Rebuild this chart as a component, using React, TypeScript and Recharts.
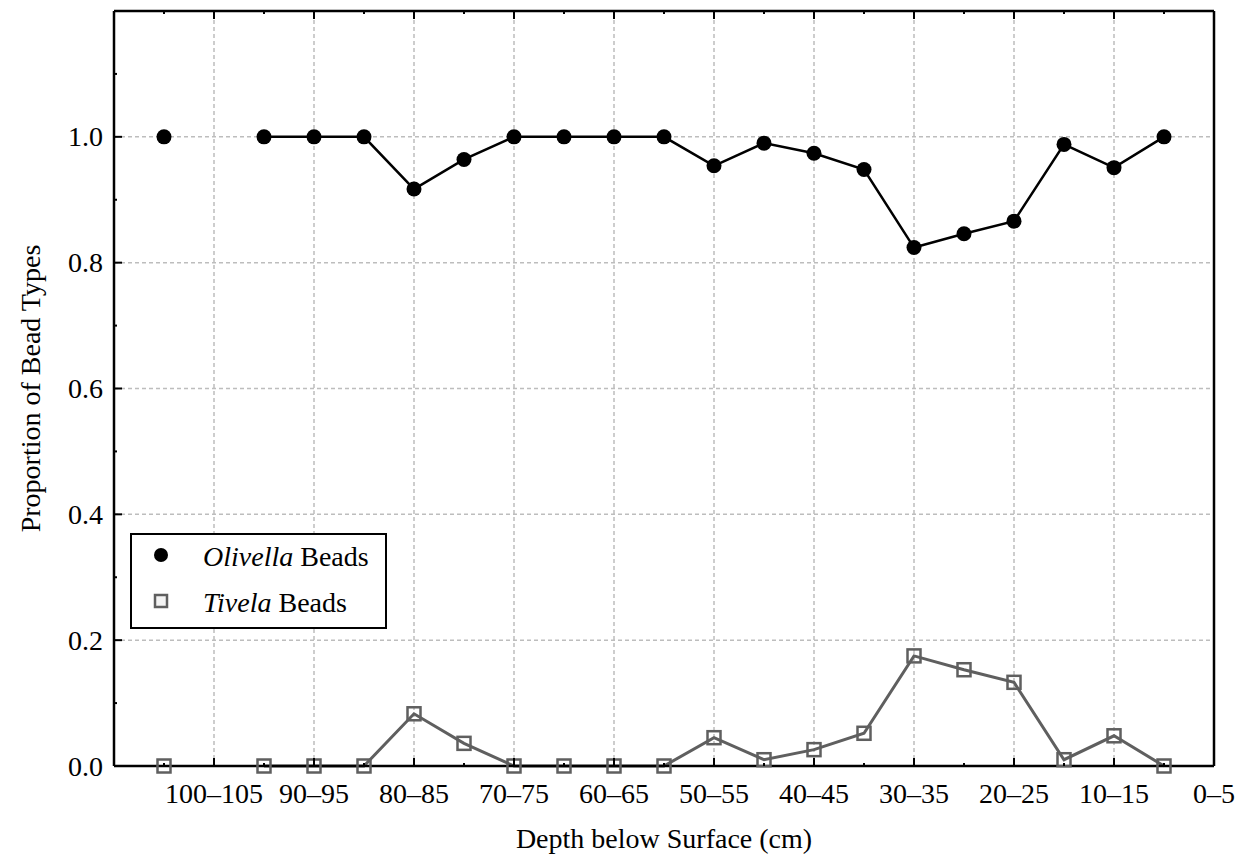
import React from 'react';
import { LineChart, Line, XAxis, YAxis, ReferenceLine, Legend, Label } from 'recharts';

// depth bins, keyed by the top of each 5 cm level (0 = 0–5 cm)
const binStart = [105, 100, 95, 90, 85, 80, 75, 70, 65, 60, 55, 50, 45, 40, 35, 30, 25, 20, 15, 10, 5];
const olivella = [1.0, null, 1.0, 1.0, 1.0, 0.917, 0.964, 1.0, 1.0, 1.0, 1.0, 0.954, 0.99, 0.974, 0.948, 0.824, 0.846, 0.866, 0.988, 0.951, 1.0];
const tivela = [0, null, 0, 0, 0, 0.083, 0.036, 0, 0, 0, 0, 0.045, 0.01, 0.026, 0.052, 0.175, 0.153, 0.133, 0.01, 0.048, 0];

const xMajorTicks = [0, 10, 20, 30, 40, 50, 60, 70, 80, 90, 100];
const xTickLabels = ['0–5', '10–15', '20–25', '30–35', '40–45', '50–55', '60–65', '70–75', '80–85', '90–95', '100–105'];
const xMinorTicks = [5, 15, 25, 35, 45, 55, 65, 75, 85, 95, 105];
const yMajorTicks = [0, 0.2, 0.4, 0.6, 0.8, 1.0];
const yTickLabels = ['0.0', '0.2', '0.4', '0.6', '0.8', '1.0'];
const yMinorTicks = [0.1, 0.3, 0.5, 0.7, 0.9, 1.1];

const data = binStart.map((d, i) => ({ depth: d, olivella: olivella[i], tivela: tivela[i] }));

const xTicks = [...xMajorTicks, ...xMinorTicks].sort((a, b) => a - b);
const yTicks = [...yMajorTicks, ...yMinorTicks].sort((a, b) => a - b);

const FONT = '"Liberation Serif", "Times New Roman", serif';
const FONT_SIZE = 28;
const GRID = '#bdbdbd';
const TIVELA = '#5f5f5f';

const isMajor = (list: number[], v: number) => list.findIndex((t) => Math.abs(t - v) < 1e-6);

// tick marks point into the plot; labels only on the major ticks
function BottomTick({ x, y, payload }: any) {
  const i = isMajor(xMajorTicks, payload.value);
  return (
    <g>
      <line x1={x} y1={y} x2={x} y2={y - (i >= 0 ? 8 : 3)} stroke="#000" strokeWidth={2} />
      {i >= 0 && (
        <text x={x} y={y + 37} textAnchor="middle" fontSize={FONT_SIZE} fontFamily={FONT} fill="#000">
          {xTickLabels[i]}
        </text>
      )}
    </g>
  );
}

function TopTick({ x, y, payload }: any) {
  const i = isMajor(xMajorTicks, payload.value);
  return <line x1={x} y1={y} x2={x} y2={y + (i >= 0 ? 8 : 3)} stroke="#000" strokeWidth={2} />;
}

function LeftTick({ x, y, payload }: any) {
  const i = isMajor(yMajorTicks, payload.value);
  return (
    <g>
      <line x1={x} y1={y} x2={x + (i >= 0 ? 8 : 3)} y2={y} stroke="#000" strokeWidth={2} />
      {i >= 0 && (
        <text x={x - 11} y={y} dy="0.34em" textAnchor="end" fontSize={FONT_SIZE} fontFamily={FONT} fill="#000">
          {yTickLabels[i]}
        </text>
      )}
    </g>
  );
}

function RightTick({ x, y, payload }: any) {
  const i = isMajor(yMajorTicks, payload.value);
  return <line x1={x} y1={y} x2={x - (i >= 0 ? 8 : 3)} y2={y} stroke="#000" strokeWidth={2} />;
}

function OlivellaDot({ cx, cy }: any) {
  if (cx == null || cy == null) return <g />;
  return <circle cx={cx} cy={cy} r={7.5} fill="#000" />;
}

function TivelaDot({ cx, cy }: any) {
  if (cx == null || cy == null) return <g />;
  return <rect x={cx - 6.5} y={cy - 6.5} width={13} height={13} fill="none" stroke={TIVELA} strokeWidth={2.5} />;
}

function BeadLegend() {
  return (
    <svg width={257} height={96} style={{ display: 'block' }}>
      <rect x={1} y={1} width={255} height={94} fill="#fff" stroke="#000" strokeWidth={2} />
      <circle cx={31} cy={22} r={7} fill="#000" />
      <rect x={25} y={62} width={12} height={12} fill="#f4f4f4" stroke={TIVELA} strokeWidth={2.5} />
      <text x={73} y={33} fontSize={FONT_SIZE} fontFamily={FONT} fill="#000">
        <tspan fontStyle="italic">Olivella</tspan> Beads
      </text>
      <text x={73} y={79} fontSize={FONT_SIZE} fontFamily={FONT} fill="#000">
        <tspan fontStyle="italic">Tivela</tspan> Beads
      </text>
    </svg>
  );
}

export default function App() {
  return (
    <div style={{ position: 'absolute', left: 0, top: 0, width: 1240, height: 856, background: '#fff' }}>
      <LineChart width={1240} height={856} data={data} margin={{ top: 0, right: 0, bottom: 0, left: 0 }}>
        {xMajorTicks.slice(1).map((v) => (
          <ReferenceLine key={`gx-${v}`} x={v} stroke={GRID} strokeWidth={1.5} strokeDasharray="4 3" />
        ))}
        {yMajorTicks.slice(1).map((v) => (
          <ReferenceLine key={`gy-${v}`} y={v} stroke={GRID} strokeWidth={1.5} strokeDasharray="4 3" />
        ))}
        <XAxis
          dataKey="depth"
          type="number"
          domain={[0, 110]}
          reversed
          ticks={xTicks}
          interval={0}
          height={90}
          tickSize={0}
          tickMargin={0}
          tickLine={false}
          tick={<BottomTick />}
          axisLine={{ stroke: '#000', strokeWidth: 2.5 }}
        >
          <Label
            content={({ viewBox }: any) => (
              <text x={viewBox.x + viewBox.width / 2} y={viewBox.y + 82} textAnchor="middle" fontSize={FONT_SIZE} fontFamily={FONT} fill="#000">
                Depth below Surface (cm)
              </text>
            )}
          />
        </XAxis>
        <XAxis
          xAxisId="top"
          orientation="top"
          dataKey="depth"
          type="number"
          domain={[0, 110]}
          reversed
          ticks={xTicks}
          interval={0}
          height={11}
          tickSize={0}
          tickMargin={0}
          tickLine={false}
          tick={<TopTick />}
          axisLine={{ stroke: '#000', strokeWidth: 2.5 }}
        />
        <YAxis
          type="number"
          domain={[0, 1.2]}
          ticks={yTicks}
          interval={0}
          width={114}
          tickSize={0}
          tickMargin={0}
          tickLine={false}
          tick={<LeftTick />}
          axisLine={{ stroke: '#000', strokeWidth: 2.5 }}
        >
          <Label
            content={({ viewBox }: any) => {
              const cx = 30;
              const cy = viewBox.y + viewBox.height / 2;
              return (
                <text x={cx} y={cy} transform={`rotate(-90 ${cx} ${cy})`} textAnchor="middle" dominantBaseline="central" fontSize={FONT_SIZE} fontFamily={FONT} fill="#000">
                  Proportion of Bead Types
                </text>
              );
            }}
          />
        </YAxis>
        <YAxis
          yAxisId="right"
          orientation="right"
          type="number"
          domain={[0, 1.2]}
          ticks={yTicks}
          interval={0}
          width={26}
          tickSize={0}
          tickMargin={0}
          tickLine={false}
          tick={<RightTick />}
          axisLine={{ stroke: '#000', strokeWidth: 2.5 }}
        />
        <Line
          dataKey="tivela"
          name="Tivela Beads"
          stroke={TIVELA}
          strokeWidth={3}
          dot={<TivelaDot />}
          activeDot={false}
          connectNulls={false}
          isAnimationActive={false}
        />
        <Line
          dataKey="olivella"
          name="Olivella Beads"
          stroke="#000"
          strokeWidth={2.5}
          dot={<OlivellaDot />}
          activeDot={false}
          connectNulls={false}
          isAnimationActive={false}
        />
        <Legend
          layout="vertical"
          align="center"
          verticalAlign="middle"
          content={() => <BeadLegend />}
          wrapperStyle={{ position: 'absolute', left: 130, top: 533, width: 257, height: 96 }}
        />
      </LineChart>
    </div>
  );
}
